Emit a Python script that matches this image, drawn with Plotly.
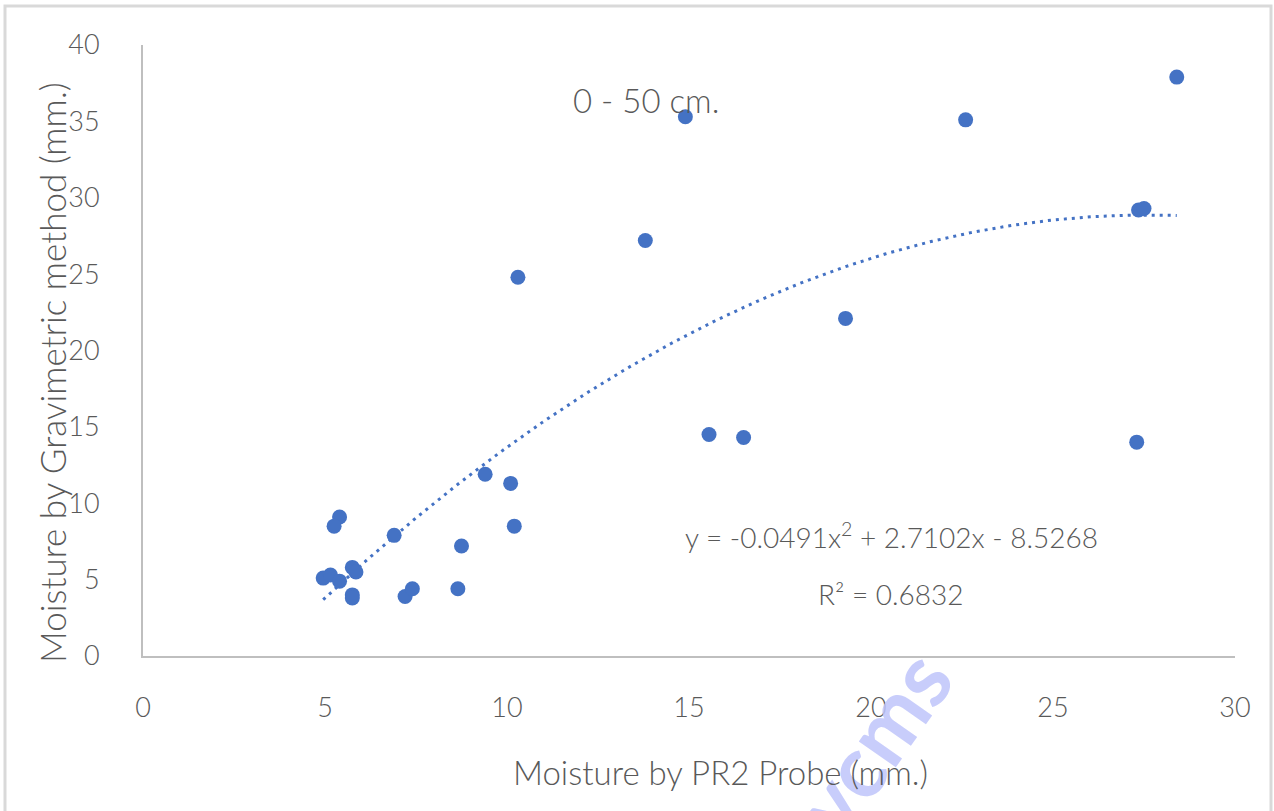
import numpy as np
import plotly.graph_objects as go

# Data
probe_mm = [28.4, 14.9, 22.6, 27.35, 27.5, 13.8, 10.3, 19.3, 15.55, 16.5, 27.3,
            9.4, 10.1, 5.4, 5.25, 6.9, 10.2, 8.75, 5.75, 5.85, 4.95, 5.15, 5.4,
            5.75, 5.75, 7.2, 7.4, 8.65]
gravimetric_mm = [37.9, 35.3, 35.1, 29.2, 29.3, 27.2, 24.8, 22.1, 14.5, 14.3, 14.0,
                  11.9, 11.3, 9.1, 8.5, 7.9, 8.5, 7.2, 5.8, 5.5, 5.1, 5.3, 4.9,
                  4.0, 3.8, 3.9, 4.4, 4.4]

# Trendline coefficients as printed on the chart
coef_a, coef_b, coef_c = -0.0491, 2.7102, -8.5268
x_ticks = [0, 5, 10, 15, 20, 25, 30]
y_ticks = [0, 5, 10, 15, 20, 25, 30, 35, 40]

blue = "#4472C4"
grey_text = "#595959"
axis_grey = "#BFBFBF"
font_family = "Lato"

xs = np.linspace(min(probe_mm), max(probe_mm), 200)
ys = coef_a * xs**2 + coef_b * xs + coef_c

fig = go.Figure()
fig.add_trace(go.Scatter(x=xs, y=ys, mode="lines",
                         line=dict(color=blue, width=3, dash="3px,5px"),
                         hoverinfo="skip", showlegend=False))
fig.add_trace(go.Scatter(x=probe_mm, y=gravimetric_mm, mode="markers",
                         marker=dict(color=blue, size=15, line=dict(width=0)),
                         showlegend=False))

W, H = 1274, 811
L, R, T, B = 143, 39, 45, 155
pw, ph = W - L - R, H - T - B

def px(xp):
    return (xp - L) / pw

def py(yp):
    return (H - B - yp) / ph

def note(text, x, y, size, angle=0, color=grey_text, weight=300):
    return dict(text=text, xref="paper", yref="paper", x=px(x), y=py(y),
                xanchor="center", yanchor="middle", showarrow=False, textangle=angle,
                font=dict(size=size, color=color, family=font_family, weight=weight))

tick_font = dict(size=27, color=grey_text, family=font_family, weight=300)

fig.update_layout(
    width=W, height=H,
    margin=dict(l=L, r=R, t=T, b=B),
    paper_bgcolor="white", plot_bgcolor="white",
    font=dict(family=font_family, color=grey_text, weight=300),
    xaxis=dict(range=[0, 30], tickvals=x_ticks, showgrid=False, zeroline=False,
               showline=True, linecolor=axis_grey, linewidth=2,
               ticks="", ticklabelstandoff=27, tickfont=tick_font),
    yaxis=dict(range=[0, 40], tickvals=y_ticks, showgrid=False, zeroline=False,
               showline=True, linecolor=axis_grey, linewidth=2,
               ticks="", ticklabelstandoff=36, tickfont=tick_font),
    annotations=[
        note("ycms", 872, 742, 88, angle=-55, color="rgba(190,196,250,0.85)", weight=700),
        note("0 - 50 cm.", 646, 100, 33),
        note("y = -0.0491x<sup>2</sup> + 2.7102x - 8.5268", 891, 535, 28),
        note("R² = 0.6832", 891, 594, 28),
        note("Moisture by PR2 Probe (mm.)", 720, 772, 33),
        note("Moisture by Gravimetric method (mm.)", 52, 373, 35, angle=-90),
    ],
    shapes=[
        dict(type="rect", xref="paper", yref="paper",
             x0=px(5), x1=px(1271), y0=py(830), y1=py(6),
             line=dict(color="#D9D9D9", width=3), fillcolor="rgba(0,0,0,0)", layer="below"),
    ],
)

fig.write_html("out.html")
